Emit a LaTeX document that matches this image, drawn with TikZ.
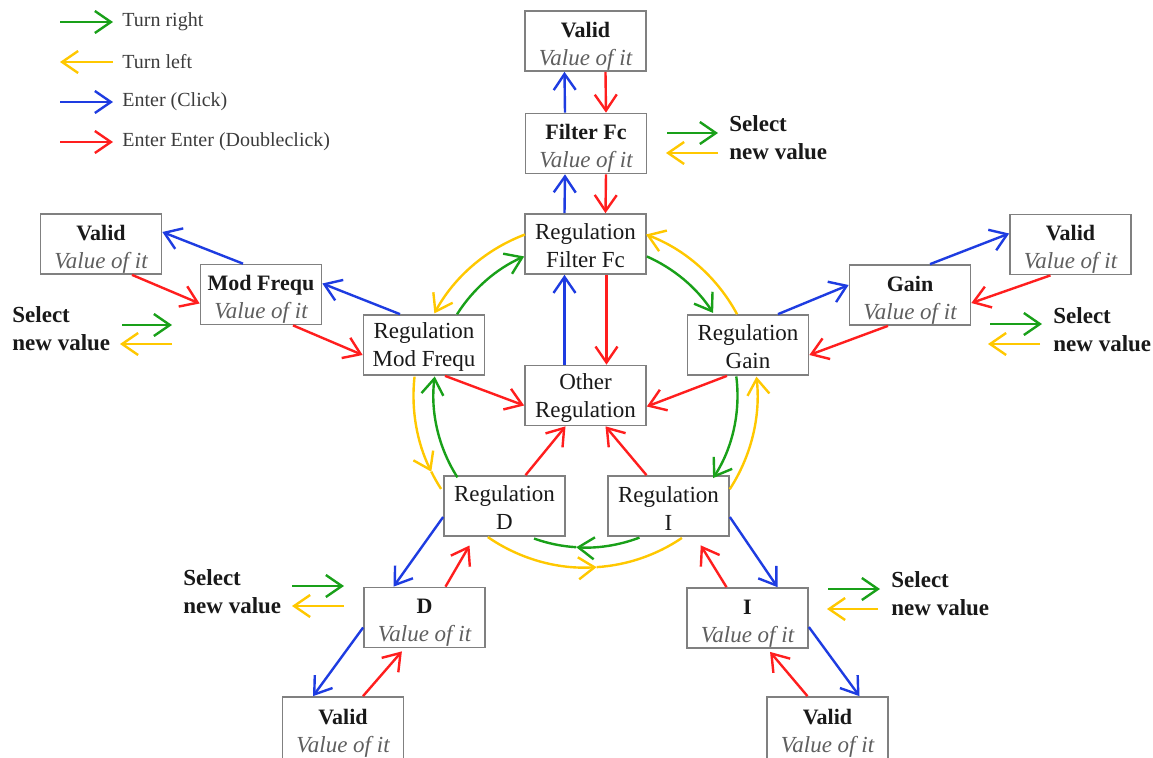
\documentclass[tikz,border=0pt]{standalone}
\usepackage{fontspec}
\setmainfont{Liberation Serif}
\usetikzlibrary{arrows.meta}
\definecolor{cgreen}{RGB}{25,160,25}
\definecolor{cyellow}{RGB}{255,200,0}
\definecolor{cblue}{RGB}{30,60,225}
\definecolor{cred}{RGB}{255,30,30}
\definecolor{cframe}{RGB}{128,128,128}
\definecolor{cval}{RGB}{95,95,95}
\definecolor{ctext}{RGB}{25,25,25}
\definecolor{clegend}{RGB}{60,60,60}

\begin{document}
\begin{tikzpicture}[x=0.5pt,y=-0.5pt,
  box/.style={draw=cframe,line width=0.85pt,fill=white,minimum width=60.5pt,
    minimum height=30pt,inner sep=0pt,align=center,text=ctext,
    font=\fontsize{11.5}{14}\selectfont},
  con/.style={line width=1.2pt,-{Straight Barb[length=8pt,width=11pt]}},
  ablue/.style={con,cblue},
  ared/.style={con,cred},
  agreen/.style={con,cgreen},
  ayellow/.style={con,cyellow},
  pgreen/.style={line width=1.2pt,cgreen},
  pyellow/.style={line width=1.2pt,cyellow},
  legtext/.style={anchor=west,inner sep=0pt,text=clegend,font=\fontsize{10}{12}\selectfont},
  seltext/.style={anchor=west,inner sep=0pt,align=left,text=ctext,
    font=\fontsize{11.5}{14}\selectfont\bfseries}]

\fill[white] (0,0) rectangle (1153,757);
\useasboundingbox (0,0) rectangle (1153,757);

% ---------- legend ----------
\coordinate (lg1a) at (60,22);  \coordinate (lg1b) at (113,22);
\coordinate (lg2a) at (113,62); \coordinate (lg2b) at (60,62);
\coordinate (lg3a) at (60,102); \coordinate (lg3b) at (113,102);
\coordinate (lg4a) at (60,142); \coordinate (lg4b) at (113,142);
\draw[agreen]  (lg1a) -- (lg1b);
\draw[ayellow] (lg2a) -- (lg2b);
\draw[ablue]   (lg3a) -- (lg3b);
\draw[ared]    (lg4a) -- (lg4b);
\node[legtext] (lt1) at (122,22)  {Turn right};
\node[legtext] (lt2) at (122,62)  {Turn left};
\node[legtext] (lt3) at (122,102) {Enter (Click)};
\node[legtext] (lt4) at (122,142) {Enter Enter (Doubleclick)};

% ---------- boxes ----------
% value boxes: bold title over the grey italic value
\newcommand\valbox[1]{\rule{0pt}{12.5pt}{\fontsize{11}{14}\selectfont\bfseries #1}\\{\color{cval}\itshape Value of it}}
% menu boxes: two plain lines
\newcommand\regbox[2]{\rule{0pt}{10pt}#1\\#2}
\node[box] (vtop) at (585.5,41)   {\valbox{Valid}};
\node[box] (ffc)  at (586,143.5)  {\valbox{Filter Fc}};
\node[box] (rff)  at (585.5,244)  {\regbox{Regulation}{Filter Fc}};
\node[box] (oth)  at (585.5,395.5){\regbox{Other}{Regulation}};
\node[box] (rmf)  at (424,345)    {\regbox{Regulation}{Mod Frequ}};
\node[box] (rg)   at (748,345)    {\regbox{Regulation}{Gain}};
\node[box] (rd)   at (504.5,506)  {\regbox{Regulation}{D}};
\node[box] (ri)   at (668.5,506)  {\regbox{Regulation}{I}};
\node[box] (mfv)  at (261,294.5)  {\valbox{Mod Frequ}};
\node[box] (vl)   at (101,244)    {\valbox{Valid}};
\node[box] (gv)   at (910,295)    {\valbox{Gain}};
\node[box] (vr)   at (1070.5,244.5){\valbox{Valid}};
\node[box] (dv)   at (424.5,617.5){\valbox{D}};
\node[box,minimum height=31pt] (vd) at (343,728) {\valbox{Valid}};
\node[box] (iv)   at (747.5,618)  {\valbox{I}};
\node[box,minimum height=31pt] (vi) at (827.5,728) {\valbox{Valid}};

% ---------- top column ----------
\draw[ablue] ([shift={(-21,0)}]rff.north) -- ([shift={(-21,0)}]ffc.south);
\draw[ared]  ([shift={(20,0)}]ffc.south) -- ([shift={(20,0)}]rff.north);
\draw[ablue] ([shift={(-21,0)}]ffc.north) -- ([shift={(-21,0)}]vtop.south);
\draw[ared]  ([shift={(20,0)}]vtop.south) -- ([shift={(20,0)}]ffc.north);
\draw[ablue] ([shift={(-21,0)}]oth.north) -- ([shift={(-21,0)}]rff.south);
\draw[ared]  ([shift={(21,0)}]rff.south) -- ([shift={(21,0)}]oth.north);

% ---------- left branch ----------
\draw[ablue] ([shift={(-24,0)}]rmf.north) -- ([shift={(0,-11)}]mfv.east);
\draw[ablue] ([shift={(-18,0)}]mfv.north) -- ([shift={(0,-12)}]vl.east);
\draw[ared]  ([shift={(31,0)}]vl.south) -- ([shift={(0,9)}]mfv.west);
\draw[ared]  ([shift={(32,0)}]mfv.south) -- ([shift={(0,10)}]rmf.west);
\draw[ared]  ([shift={(21,0)}]rmf.south) -- ([shift={(0,10)}]oth.west);

% ---------- right branch ----------
\draw[ablue] ([shift={(30,0)}]rg.north) -- ([shift={(0,-10)}]gv.west);
\draw[ablue] ([shift={(20,0)}]gv.north) -- ([shift={(0,-11)}]vr.west);
\draw[ared]  ([shift={(-20,0)}]vr.south) -- ([shift={(0,8)}]gv.east);
\draw[ared]  ([shift={(-22,0)}]gv.south) -- ([shift={(0,10)}]rg.east);
\draw[ared]  ([shift={(-21,0)}]rg.south) -- ([shift={(0,11)}]oth.east);

% ---------- lower branches ----------
\draw[ared]  ([shift={(21,0)}]rd.north) -- ([shift={(-20,0)}]oth.south);
\draw[ared]  ([shift={(-22,0)}]ri.north) -- ([shift={(20,0)}]oth.south);

\draw[ablue] ([shift={(0,11)}]rd.west) -- ([shift={(-31,0)}]dv.north);
\draw[ared,shorten >=5pt] ([shift={(21,0)}]dv.north) -- ([shift={(-30,0)}]rd.south);
\draw[ablue] ([shift={(0,10)}]dv.west) -- ([shift={(-30,0)}]vd.north);
\draw[ared,shorten >=2pt] ([shift={(20,0)}]vd.north) -- ([shift={(-20,0)}]dv.south);

\draw[ablue] ([shift={(0,11)}]ri.east) -- ([shift={(30,0)}]iv.north);
\draw[ared,shorten >=5pt] ([shift={(-21,0)}]iv.north) -- ([shift={(27,0)}]ri.south);
\draw[ablue] ([shift={(0,9)}]iv.east) -- ([shift={(32,0)}]vi.north);
\draw[ared,shorten >=2pt] ([shift={(-20,0)}]vi.north) -- ([shift={(20,0)}]iv.south);

% ---------- ring: turn right (inner, clockwise) ----------
\draw[agreen] ([shift={(212.3:152)}]oth.center) arc[start angle=212.3,end angle=246.2,radius=152];
\draw[agreen] ([shift={(293.8:152)}]oth.center) arc[start angle=293.8,end angle=327.1,radius=152];
\draw[agreen] ([shift={(-7.2:152)}]oth.center) arc[start angle=-7.2,end angle=32.9,radius=152];
\draw[agreen] ([shift={(69.2:152)}]oth.center) arc[start angle=69.2,end angle=93.5,radius=152];
\draw[pgreen] ([shift={(93.5:152)}]oth.center) arc[start angle=93.5,end angle=109.8,radius=152];
\draw[agreen] ([shift={(147.4:152)}]oth.center) arc[start angle=147.4,end angle=187.2,radius=152];

% ---------- ring: turn left (outer, counter-clockwise) ----------
\draw[ayellow] ([shift={(249.4:172)}]oth.center) arc[start angle=249.4,end angle=208.5,radius=172];
\draw[ayellow] ([shift={(186.3:172)}]oth.center) arc[start angle=186.3,end angle=153.7,radius=172];
\draw[pyellow] ([shift={(153.7:172)}]oth.center) arc[start angle=153.7,end angle=147.1,radius=172];
\draw[ayellow] ([shift={(124.6:172)}]oth.center) arc[start angle=124.6,end angle=86.3,radius=172];
\draw[pyellow] ([shift={(86.3:172)}]oth.center) arc[start angle=86.3,end angle=55.9,radius=172];
\draw[ayellow] ([shift={(33:172)}]oth.center) arc[start angle=33,end angle=-6.3,radius=172];
\draw[ayellow] ([shift={(-28.2:172)}]oth.center) arc[start angle=-28.2,end angle=-69.4,radius=172];

% ---------- "Select new value" hints ----------
\coordinate (s1ga) at (667,133);  \coordinate (s1gb) at (718,133);
\coordinate (s1ya) at (718,153);  \coordinate (s1yb) at (666,153);
\draw[agreen] (s1ga) -- (s1gb);  \draw[ayellow] (s1ya) -- (s1yb);
\node[seltext] (s1) at (729,138) {Select\\new value};

\coordinate (s2ga) at (122,325);  \coordinate (s2gb) at (172,325);
\coordinate (s2ya) at (172,344);  \coordinate (s2yb) at (120,344);
\draw[agreen] (s2ga) -- (s2gb);  \draw[ayellow] (s2ya) -- (s2yb);
\node[seltext] (s2) at (12,329) {Select\\new value};

\coordinate (s3ga) at (990,324);  \coordinate (s3gb) at (1042,324);
\coordinate (s3ya) at (1040,344); \coordinate (s3yb) at (988,344);
\draw[agreen] (s3ga) -- (s3gb);  \draw[ayellow] (s3ya) -- (s3yb);
\node[seltext] (s3) at (1053,329.5) {Select\\new value};

\coordinate (s4ga) at (292,586);  \coordinate (s4gb) at (344,586);
\coordinate (s4ya) at (344,606);  \coordinate (s4yb) at (292,606);
\draw[agreen] (s4ga) -- (s4gb);  \draw[ayellow] (s4ya) -- (s4yb);
\node[seltext] (s4) at (183,591.5) {Select\\new value};

\coordinate (s5ga) at (828,589);  \coordinate (s5gb) at (880,589);
\coordinate (s5ya) at (878,609);  \coordinate (s5yb) at (827,609);
\draw[agreen] (s5ga) -- (s5gb);  \draw[ayellow] (s5ya) -- (s5yb);
\node[seltext] (s5) at (891,594) {Select\\new value};

\end{tikzpicture}
\end{document}
